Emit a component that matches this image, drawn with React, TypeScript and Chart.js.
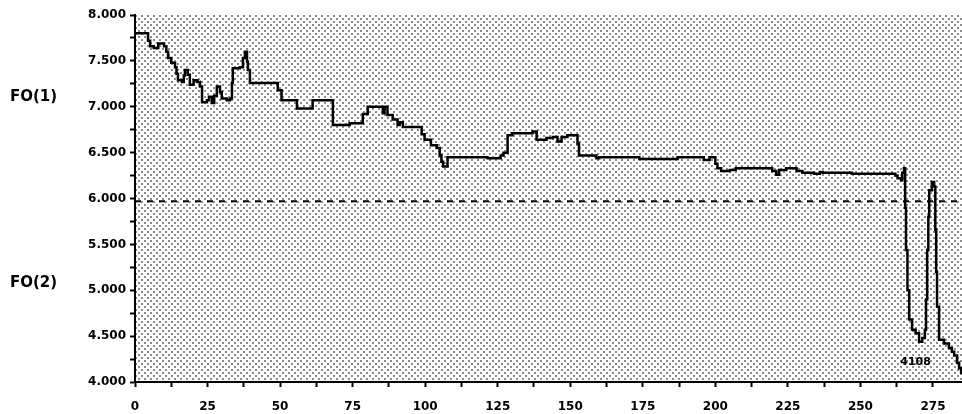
import React, { useEffect, useRef } from "react";
import { Chart, registerables } from "chart.js";

Chart.register(...registerables);

// Step trace: each level starts at the given sample index and holds until the next one.
const sampleIndex = [
  0, 4.5, 5.2, 6.5, 8, 10, 10.8, 11.4, 12.5, 13.8, 14.3, 14.8, 16.2, 16.8, 17.2, 18.2, 18.9,
  20.2, 21.5, 22.4, 23.1, 24.8, 25.5, 26.5, 27.3, 28.2, 29.3, 29.9, 31.6, 32.7, 33.4, 33.7,
  36.1, 37.2, 37.9, 38.6, 38.9, 39.6, 49.2, 50.5, 55.8, 61.2, 68.2, 74, 78.5, 80.2, 85.4, 86,
  87, 88.8, 90.5, 91.2, 92.3, 98.8, 99.8, 102, 104, 105, 105.6, 106.2, 107.7, 121.5, 126, 127,
  128.4, 130, 137, 138.4, 141.8, 144, 145.6, 147, 149, 152.5, 153, 159, 160, 173.8, 187, 196,
  198, 200, 200.7, 202, 205, 207, 219.6, 221, 222, 224.4, 228, 230, 234, 236, 237, 247, 262,
  262.8, 264, 264.4, 265, 265.4, 265.7, 266.2, 266.8, 267.8, 269, 270.2, 271.3, 272.2, 272.6,
  273, 273.4, 273.7, 274.6, 275.4, 275.8, 276.1, 276.4, 277.1, 278.8, 280.5, 281.5, 282.3,
  283.3, 284, 284.7, 285,
];

const foValues = [
  7.8, 7.72, 7.66, 7.64, 7.69, 7.66, 7.6, 7.53, 7.48, 7.43, 7.36, 7.29, 7.27, 7.34, 7.4, 7.35,
  7.24, 7.29, 7.27, 7.22, 7.05, 7.07, 7.11, 7.04, 7.12, 7.22, 7.16, 7.09, 7.07, 7.09, 7.26,
  7.42, 7.43, 7.53, 7.6, 7.49, 7.4, 7.26, 7.18, 7.07, 6.98, 7.07, 6.8, 6.82, 6.92, 7.0, 6.93,
  7.0, 6.91, 6.86, 6.8, 6.83, 6.78, 6.7, 6.64, 6.58, 6.55, 6.47, 6.4, 6.35, 6.45, 6.44, 6.47,
  6.5, 6.69, 6.71, 6.73, 6.64, 6.66, 6.67, 6.62, 6.67, 6.69, 6.6, 6.47, 6.44, 6.45, 6.43, 6.45,
  6.42, 6.45, 6.38, 6.33, 6.3, 6.31, 6.33, 6.3, 6.26, 6.31, 6.33, 6.3, 6.28, 6.27, 6.29, 6.28,
  6.27, 6.25, 6.22, 6.2, 6.28, 6.33, 5.9, 5.44, 5.0, 4.68, 4.57, 4.53, 4.44, 4.48, 4.57, 4.9,
  5.44, 5.8, 6.09, 6.18, 6.13, 5.66, 5.2, 4.82, 4.46, 4.42, 4.37, 4.33, 4.29, 4.21, 4.15, 4.1,
  4.08,
];

// Dashed reference level between FO(1) and FO(2)
const thresholdLevel = 5.97;

// Axis ranges and tick spacing
const xRange = [0, 285];
const yRange = [4, 8];
const xMajorStep = 25;
const xMinorStep = 12.5;
const yMajorStep = 0.5;
const yMinorStep = 0.25;

// Side labels and their levels on the value axis
const sideLabels = ["FO(1)", "FO(2)"];
const sideLabelLevels = [7.1, 5.08];

// Annotation near the end of the trace
const noteText = "4108";
const noteAt = [269, 4.22];

const FONT = "'DejaVu Sans', 'Liberation Sans', sans-serif";

function makeDotPattern(): CanvasPattern | string {
  const tile = document.createElement("canvas");
  tile.width = 6;
  tile.height = 6;
  const g = tile.getContext("2d");
  if (!g) return "#dcdcdc";
  g.fillStyle = "#ffffff";
  g.fillRect(0, 0, 6, 6);
  g.fillStyle = "#8c8c8c";
  g.fillRect(0, 0, 2, 2);
  g.fillRect(3, 3, 2, 2);
  const ctx = document.createElement("canvas").getContext("2d");
  return (ctx && ctx.createPattern(tile, "repeat")) || "#dcdcdc";
}

const isMultiple = (v: number, step: number) =>
  Math.abs(v / step - Math.round(v / step)) < 1e-6;

export default function App() {
  const canvasRef = useRef<HTMLCanvasElement | null>(null);

  useEffect(() => {
    document.body.style.margin = "0";
    const canvas = canvasRef.current;
    if (!canvas) return;
    const pattern = makeDotPattern();

    const backdrop = {
      id: "backdrop",
      beforeDraw(chart: any) {
        const { ctx, chartArea } = chart;
        ctx.save();
        ctx.fillStyle = "#ffffff";
        ctx.fillRect(0, 0, chart.width, chart.height);
        ctx.fillStyle = pattern;
        ctx.fillRect(
          chartArea.left,
          chartArea.top,
          chartArea.right - chartArea.left,
          chartArea.bottom - chartArea.top
        );
        ctx.restore();
      },
    };

    const annotations = {
      id: "annotations",
      afterDraw(chart: any) {
        const { ctx } = chart;
        const xs = chart.scales.x;
        const ys = chart.scales.y;
        ctx.save();
        ctx.fillStyle = "#000000";
        ctx.font = `bold 15px ${FONT}`;
        ctx.textAlign = "left";
        ctx.textBaseline = "middle";
        sideLabels.forEach((t, i) => {
          ctx.fillText(t, 10, ys.getPixelForValue(sideLabelLevels[i]));
        });
        ctx.font = `bold 11px ${FONT}`;
        ctx.textAlign = "center";
        ctx.fillText(noteText, xs.getPixelForValue(noteAt[0]), ys.getPixelForValue(noteAt[1]));
        ctx.restore();
      },
    };

    const chart = new Chart(canvas, {
      type: "line",
      data: {
        datasets: [
          {
            data: sampleIndex.map((x, i) => ({ x, y: foValues[i] })),
            borderColor: "#000000",
            borderWidth: 2.5,
            pointRadius: 0,
            stepped: true,
            fill: false,
          },
          {
            data: [
              { x: xRange[0], y: thresholdLevel },
              { x: xRange[1], y: thresholdLevel },
            ],
            borderColor: "#000000",
            borderWidth: 2,
            borderDash: [6, 6],
            pointRadius: 0,
            fill: false,
          },
        ],
      },
      options: {
        responsive: false,
        animation: false,
        devicePixelRatio: 1,
        layout: { padding: { top: 15, right: 0, left: 0, bottom: 0 } },
        plugins: {
          legend: { display: false },
          tooltip: { enabled: false },
        },
        scales: {
          x: {
            type: "linear",
            min: xRange[0],
            max: xRange[1],
            afterFit(scale: any) {
              scale.height = 32;
            },
            border: { display: true, color: "#000000", width: 2 },
            grid: {
              display: true,
              drawOnChartArea: false,
              drawTicks: true,
              tickLength: 5,
              tickWidth: 2,
              tickColor: "#000000",
            },
            ticks: {
              stepSize: xMinorStep,
              includeBounds: false,
              autoSkip: false,
              maxRotation: 0,
              padding: 13,
              color: "#000000",
              font: { family: FONT, size: 12, weight: "bold" },
              callback: (v: any) => (isMultiple(Number(v), xMajorStep) ? String(v) : ""),
            },
          },
          y: {
            type: "linear",
            min: yRange[0],
            max: yRange[1],
            afterFit(scale: any) {
              scale.width = 135;
            },
            border: { display: true, color: "#000000", width: 2 },
            grid: {
              display: true,
              drawOnChartArea: false,
              drawTicks: true,
              tickLength: 5,
              tickWidth: 2,
              tickColor: "#000000",
            },
            ticks: {
              stepSize: yMinorStep,
              autoSkip: false,
              padding: 4,
              color: "#000000",
              font: { family: FONT, size: 12, weight: "bold" },
              callback: (v: any) =>
                isMultiple(Number(v), yMajorStep) ? Number(v).toFixed(3) : "",
            },
          },
        },
      },
      plugins: [backdrop, annotations],
    } as any);

    return () => chart.destroy();
  }, []);

  return (
    <div style={{ width: 962, height: 414, background: "#ffffff" }}>
      <canvas ref={canvasRef} width={962} height={414} style={{ display: "block" }} />
    </div>
  );
}
